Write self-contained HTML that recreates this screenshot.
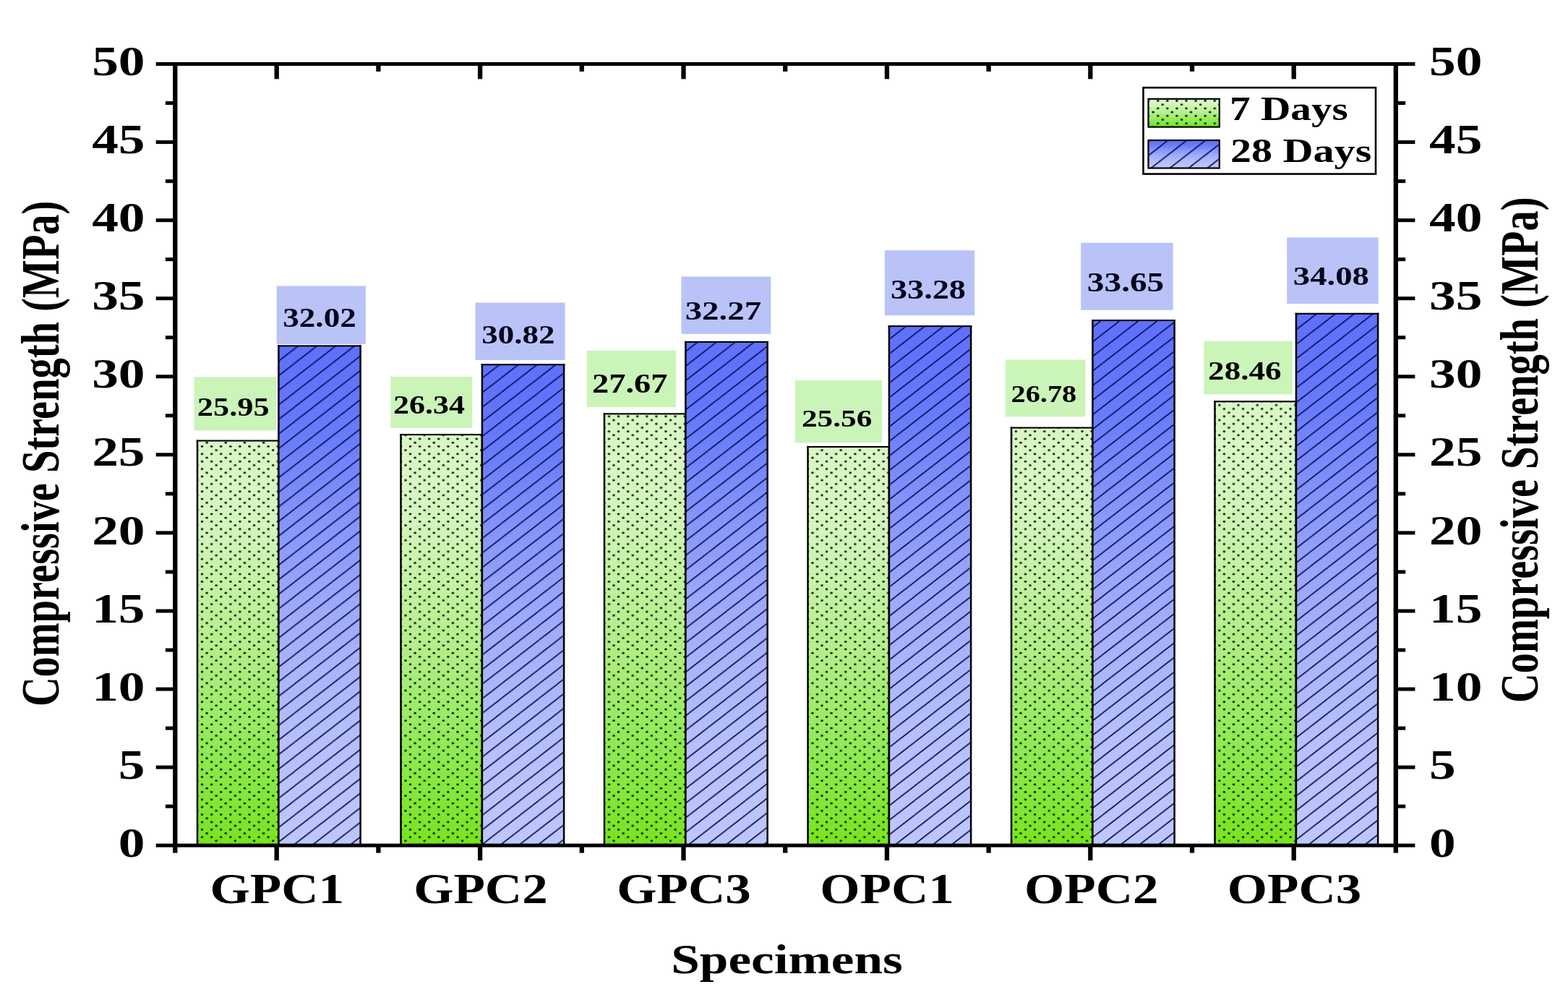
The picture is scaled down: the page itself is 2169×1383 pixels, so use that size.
<!DOCTYPE html>
<html lang="en">
<head>
<meta charset="utf-8">
<title>Compressive Strength of Specimens</title>
<style>
html,body{margin:0;padding:0;background:#fff;}
body{width:2169px;height:1383px;overflow:hidden;}
svg{display:block;}
text{font-family:"Liberation Serif", "DejaVu Serif", serif;font-weight:bold;}
</style>
</head>
<body>
<svg width="2169" height="1383" viewBox="0 0 2169 1383">
<defs>
<linearGradient id="gG" x1="0" y1="0" x2="0" y2="1"><stop offset="0.000" stop-color="#daf6c6"/><stop offset="0.120" stop-color="#d9f6c4"/><stop offset="0.210" stop-color="#d4f5bd"/><stop offset="0.350" stop-color="#c6f2a6"/><stop offset="0.500" stop-color="#b6ee8c"/><stop offset="0.630" stop-color="#a3ec70"/><stop offset="0.760" stop-color="#90ea54"/><stop offset="0.880" stop-color="#83e738"/><stop offset="0.960" stop-color="#7ce526"/><stop offset="1.000" stop-color="#78e41c"/></linearGradient>
<linearGradient id="gB" x1="0" y1="0" x2="0" y2="1"><stop offset="0.000" stop-color="#5f70fa"/><stop offset="0.100" stop-color="#6375fa"/><stop offset="0.180" stop-color="#687cfa"/><stop offset="0.330" stop-color="#8292fa"/><stop offset="0.500" stop-color="#9ba7fa"/><stop offset="0.640" stop-color="#a9b4fa"/><stop offset="0.770" stop-color="#b4befa"/><stop offset="0.900" stop-color="#bbc4fa"/><stop offset="1.000" stop-color="#bec7fa"/></linearGradient>
<pattern id="pD" patternUnits="userSpaceOnUse" width="26.182" height="20.78" patternTransform="translate(4.634,4.480)"><g fill="#0b230b"><ellipse cx="0.000" cy="0.000" rx="1.8" ry="1.4"/><ellipse cx="0.000" cy="20.780" rx="1.8" ry="1.4"/><ellipse cx="26.182" cy="0.000" rx="1.8" ry="1.4"/><ellipse cx="26.182" cy="20.780" rx="1.8" ry="1.4"/><ellipse cx="13.091" cy="0.000" rx="1.8" ry="1.4"/><ellipse cx="13.091" cy="20.780" rx="1.8" ry="1.4"/><ellipse cx="39.273" cy="0.000" rx="1.8" ry="1.4"/><ellipse cx="39.273" cy="20.780" rx="1.8" ry="1.4"/><ellipse cx="19.636" cy="5.195" rx="1.8" ry="1.4"/><ellipse cx="19.636" cy="25.975" rx="1.8" ry="1.4"/><ellipse cx="45.819" cy="5.195" rx="1.8" ry="1.4"/><ellipse cx="45.819" cy="25.975" rx="1.8" ry="1.4"/><ellipse cx="0.000" cy="10.390" rx="1.8" ry="1.4"/><ellipse cx="0.000" cy="31.170" rx="1.8" ry="1.4"/><ellipse cx="26.182" cy="10.390" rx="1.8" ry="1.4"/><ellipse cx="26.182" cy="31.170" rx="1.8" ry="1.4"/><ellipse cx="13.091" cy="10.390" rx="1.8" ry="1.4"/><ellipse cx="13.091" cy="31.170" rx="1.8" ry="1.4"/><ellipse cx="39.273" cy="10.390" rx="1.8" ry="1.4"/><ellipse cx="39.273" cy="31.170" rx="1.8" ry="1.4"/><ellipse cx="6.545" cy="15.585" rx="1.8" ry="1.4"/><ellipse cx="6.545" cy="36.365" rx="1.8" ry="1.4"/><ellipse cx="32.727" cy="15.585" rx="1.8" ry="1.4"/><ellipse cx="32.727" cy="36.365" rx="1.8" ry="1.4"/></g></pattern>
<pattern id="pH" patternUnits="userSpaceOnUse" width="25.9900" height="20.1550" patternTransform="translate(17.550,18.835)"><g stroke="#0c0c58" stroke-width="1.35" stroke-linecap="butt"><line x1="-25.99" y1="20.155" x2="25.99" y2="-20.155"/><line x1="0" y1="20.155" x2="51.98" y2="-20.155"/><line x1="-25.99" y1="40.31" x2="25.99" y2="0"/><line x1="0" y1="40.31" x2="51.98" y2="0"/></g></pattern>
<pattern id="pH2" patternUnits="userSpaceOnUse" width="25.9900" height="20.1550" patternTransform="translate(22.350,18.835)"><g stroke="#0c0c58" stroke-width="1.35" stroke-linecap="butt"><line x1="-25.99" y1="20.155" x2="25.99" y2="-20.155"/><line x1="0" y1="20.155" x2="51.98" y2="-20.155"/><line x1="-25.99" y1="40.31" x2="25.99" y2="0"/><line x1="0" y1="40.31" x2="51.98" y2="0"/></g></pattern>
</defs>
<rect x="0" y="0" width="2169" height="1383" fill="#ffffff"/>
<g id="chart">
<g id="bars">
<rect x="273.00" y="609.52" width="112.40" height="559.68" fill="url(#gG)"/>
<rect x="273.00" y="609.52" width="112.40" height="559.68" fill="url(#pD)"/>
<g fill="#000"><rect x="271.75" y="608.47" width="2.5" height="560.73"/><rect x="384.15" y="608.47" width="2.5" height="560.73"/><rect x="271.75" y="608.47" width="114.90" height="2.1"/></g>
<rect x="385.40" y="478.32" width="113.20" height="690.88" fill="url(#gB)"/>
<rect x="385.40" y="478.32" width="113.20" height="690.88" fill="url(#pH)"/>
<g fill="#000"><rect x="384.15" y="477.27" width="2.5" height="691.93"/><rect x="497.35" y="477.27" width="2.5" height="691.93"/><rect x="384.15" y="477.27" width="115.70" height="2.1"/></g>
<rect x="554.50" y="601.09" width="112.40" height="568.11" fill="url(#gG)"/>
<rect x="554.50" y="601.09" width="112.40" height="568.11" fill="url(#pD)"/>
<g fill="#000"><rect x="553.25" y="600.04" width="2.5" height="569.16"/><rect x="665.65" y="600.04" width="2.5" height="569.16"/><rect x="553.25" y="600.04" width="114.90" height="2.1"/></g>
<rect x="666.90" y="504.26" width="113.20" height="664.94" fill="url(#gB)"/>
<rect x="666.90" y="504.26" width="113.20" height="664.94" fill="url(#pH)"/>
<g fill="#000"><rect x="665.65" y="503.21" width="2.5" height="665.99"/><rect x="778.85" y="503.21" width="2.5" height="665.99"/><rect x="665.65" y="503.21" width="115.70" height="2.1"/></g>
<rect x="836.00" y="572.34" width="112.40" height="596.86" fill="url(#gG)"/>
<rect x="836.00" y="572.34" width="112.40" height="596.86" fill="url(#pD)"/>
<g fill="#000"><rect x="834.75" y="571.29" width="2.5" height="597.91"/><rect x="947.15" y="571.29" width="2.5" height="597.91"/><rect x="834.75" y="571.29" width="114.90" height="2.1"/></g>
<rect x="948.40" y="472.92" width="113.20" height="696.28" fill="url(#gB)"/>
<rect x="948.40" y="472.92" width="113.20" height="696.28" fill="url(#pH)"/>
<g fill="#000"><rect x="947.15" y="471.87" width="2.5" height="697.33"/><rect x="1060.35" y="471.87" width="2.5" height="697.33"/><rect x="947.15" y="471.87" width="115.70" height="2.1"/></g>
<rect x="1117.50" y="617.95" width="112.40" height="551.25" fill="url(#gG)"/>
<rect x="1117.50" y="617.95" width="112.40" height="551.25" fill="url(#pD)"/>
<g fill="#000"><rect x="1116.25" y="616.90" width="2.5" height="552.30"/><rect x="1228.65" y="616.90" width="2.5" height="552.30"/><rect x="1116.25" y="616.90" width="114.90" height="2.1"/></g>
<rect x="1229.90" y="451.09" width="113.20" height="718.11" fill="url(#gB)"/>
<rect x="1229.90" y="451.09" width="113.20" height="718.11" fill="url(#pH)"/>
<g fill="#000"><rect x="1228.65" y="450.04" width="2.5" height="719.16"/><rect x="1341.85" y="450.04" width="2.5" height="719.16"/><rect x="1228.65" y="450.04" width="115.70" height="2.1"/></g>
<rect x="1399.00" y="591.58" width="112.40" height="577.62" fill="url(#gG)"/>
<rect x="1399.00" y="591.58" width="112.40" height="577.62" fill="url(#pD)"/>
<g fill="#000"><rect x="1397.75" y="590.53" width="2.5" height="578.67"/><rect x="1510.15" y="590.53" width="2.5" height="578.67"/><rect x="1397.75" y="590.53" width="114.90" height="2.1"/></g>
<rect x="1511.40" y="443.09" width="113.20" height="726.11" fill="url(#gB)"/>
<rect x="1511.40" y="443.09" width="113.20" height="726.11" fill="url(#pH)"/>
<g fill="#000"><rect x="1510.15" y="442.04" width="2.5" height="727.16"/><rect x="1623.35" y="442.04" width="2.5" height="727.16"/><rect x="1510.15" y="442.04" width="115.70" height="2.1"/></g>
<rect x="1680.50" y="555.27" width="112.40" height="613.93" fill="url(#gG)"/>
<rect x="1680.50" y="555.27" width="112.40" height="613.93" fill="url(#pD)"/>
<g fill="#000"><rect x="1679.25" y="554.22" width="2.5" height="614.98"/><rect x="1791.65" y="554.22" width="2.5" height="614.98"/><rect x="1679.25" y="554.22" width="114.90" height="2.1"/></g>
<rect x="1792.90" y="433.79" width="113.20" height="735.41" fill="url(#gB)"/>
<rect x="1792.90" y="433.79" width="113.20" height="735.41" fill="url(#pH)"/>
<g fill="#000"><rect x="1791.65" y="432.74" width="2.5" height="736.46"/><rect x="1904.85" y="432.74" width="2.5" height="736.46"/><rect x="1791.65" y="432.74" width="115.70" height="2.1"/></g>
</g>
<g id="labels" font-family='"Liberation Serif", "DejaVu Serif", serif' font-weight="bold">
<rect x="268.4" y="521.4" width="113.6" height="73.8" fill="#cbf4b9"/>
<text transform="translate(272.81,574.50) scale(1.2458,1.0000)" font-size="35.62" fill="#000">25.95</text>
<rect x="382.7" y="395.5" width="123.2" height="80.4" fill="#b9c3f8"/>
<text transform="translate(391.31,452.30) scale(1.2134,1.0000)" font-size="37.14" fill="#05051a">32.02</text>
<rect x="540.3" y="520.8" width="113.0" height="71.2" fill="#cbf4b9"/>
<text transform="translate(543.93,571.60) scale(1.2650,1.0000)" font-size="34.87" fill="#000">26.34</text>
<rect x="657.6" y="418.6" width="124.0" height="79.4" fill="#b9c3f8"/>
<text transform="translate(666.21,475.30) scale(1.2423,1.0000)" font-size="36.24" fill="#05051a">30.82</text>
<rect x="811.7" y="484.7" width="123.5" height="78.4" fill="#cbf4b9"/>
<text transform="translate(819.02,542.50) scale(1.2474,1.0000)" font-size="37.28" fill="#000">27.67</text>
<rect x="942.4" y="382.5" width="123.9" height="79.3" fill="#b9c3f8"/>
<text transform="translate(947.64,441.70) scale(1.2787,1.0000)" font-size="36.68" fill="#05051a">32.27</text>
<rect x="1100.0" y="526.0" width="120.0" height="86.4" fill="#cbf4b9"/>
<text transform="translate(1108.96,589.80) scale(1.2474,1.0000)" font-size="34.72" fill="#000">25.56</text>
<rect x="1223.8" y="346.3" width="124.3" height="89.9" fill="#b9c3f8"/>
<text transform="translate(1231.97,413.20) scale(1.2449,1.0000)" font-size="37.14" fill="#05051a">33.28</text>
<rect x="1391.0" y="497.4" width="110.4" height="78.9" fill="#cbf4b9"/>
<text transform="translate(1398.48,555.60) scale(1.1984,1.0000)" font-size="33.68" fill="#000">26.78</text>
<rect x="1495.2" y="335.8" width="127.5" height="93.0" fill="#b9c3f8"/>
<text transform="translate(1503.83,403.00) scale(1.2537,1.0000)" font-size="37.74" fill="#05051a">33.65</text>
<rect x="1665.3" y="471.7" width="122.7" height="73.6" fill="#cbf4b9"/>
<text transform="translate(1671.08,524.60) scale(1.2927,1.0000)" font-size="34.89" fill="#000">28.46</text>
<rect x="1780.2" y="328.4" width="126.5" height="91.7" fill="#b9c3f8"/>
<text transform="translate(1788.75,394.20) scale(1.3411,1.0000)" font-size="34.89" fill="#05051a">34.08</text>
</g>
<g id="axes" fill="#000">
<rect x="239.15" y="86.00" width="6.3" height="1085.70"/>
<rect x="1927.65" y="86.00" width="6.3" height="1085.70"/>
<rect x="239.15" y="86.00" width="1694.80" height="5.0"/>
<rect x="239.15" y="1166.70" width="1694.80" height="5.0"/>
<rect x="215.70" y="1166.70" width="26.60" height="5.0"/>
<rect x="1930.80" y="1166.70" width="26.60" height="5.0"/>
<rect x="228.90" y="1112.66" width="13.40" height="5.0"/>
<rect x="1930.80" y="1112.66" width="13.40" height="5.0"/>
<rect x="215.70" y="1058.63" width="26.60" height="5.0"/>
<rect x="1930.80" y="1058.63" width="26.60" height="5.0"/>
<rect x="228.90" y="1004.60" width="13.40" height="5.0"/>
<rect x="1930.80" y="1004.60" width="13.40" height="5.0"/>
<rect x="215.70" y="950.56" width="26.60" height="5.0"/>
<rect x="1930.80" y="950.56" width="26.60" height="5.0"/>
<rect x="228.90" y="896.53" width="13.40" height="5.0"/>
<rect x="1930.80" y="896.53" width="13.40" height="5.0"/>
<rect x="215.70" y="842.49" width="26.60" height="5.0"/>
<rect x="1930.80" y="842.49" width="26.60" height="5.0"/>
<rect x="228.90" y="788.46" width="13.40" height="5.0"/>
<rect x="1930.80" y="788.46" width="13.40" height="5.0"/>
<rect x="215.70" y="734.42" width="26.60" height="5.0"/>
<rect x="1930.80" y="734.42" width="26.60" height="5.0"/>
<rect x="228.90" y="680.38" width="13.40" height="5.0"/>
<rect x="1930.80" y="680.38" width="13.40" height="5.0"/>
<rect x="215.70" y="626.35" width="26.60" height="5.0"/>
<rect x="1930.80" y="626.35" width="26.60" height="5.0"/>
<rect x="228.90" y="572.32" width="13.40" height="5.0"/>
<rect x="1930.80" y="572.32" width="13.40" height="5.0"/>
<rect x="215.70" y="518.28" width="26.60" height="5.0"/>
<rect x="1930.80" y="518.28" width="26.60" height="5.0"/>
<rect x="228.90" y="464.25" width="13.40" height="5.0"/>
<rect x="1930.80" y="464.25" width="13.40" height="5.0"/>
<rect x="215.70" y="410.21" width="26.60" height="5.0"/>
<rect x="1930.80" y="410.21" width="26.60" height="5.0"/>
<rect x="228.90" y="356.18" width="13.40" height="5.0"/>
<rect x="1930.80" y="356.18" width="13.40" height="5.0"/>
<rect x="215.70" y="302.14" width="26.60" height="5.0"/>
<rect x="1930.80" y="302.14" width="26.60" height="5.0"/>
<rect x="228.90" y="248.11" width="13.40" height="5.0"/>
<rect x="1930.80" y="248.11" width="13.40" height="5.0"/>
<rect x="215.70" y="194.07" width="26.60" height="5.0"/>
<rect x="1930.80" y="194.07" width="26.60" height="5.0"/>
<rect x="228.90" y="140.04" width="13.40" height="5.0"/>
<rect x="1930.80" y="140.04" width="13.40" height="5.0"/>
<rect x="215.70" y="86.00" width="26.60" height="5.0"/>
<rect x="1930.80" y="86.00" width="26.60" height="5.0"/>
<rect x="239.15" y="1169.20" width="6.3" height="10.40"/>
<rect x="379.55" y="1169.20" width="6.3" height="20.80"/>
<rect x="379.55" y="88.50" width="6.3" height="20.80"/>
<rect x="520.25" y="1169.20" width="6.3" height="10.40"/>
<rect x="520.25" y="88.50" width="6.3" height="10.40"/>
<rect x="660.95" y="1169.20" width="6.3" height="20.80"/>
<rect x="660.95" y="88.50" width="6.3" height="20.80"/>
<rect x="801.65" y="1169.20" width="6.3" height="10.40"/>
<rect x="801.65" y="88.50" width="6.3" height="10.40"/>
<rect x="942.35" y="1169.20" width="6.3" height="20.80"/>
<rect x="942.35" y="88.50" width="6.3" height="20.80"/>
<rect x="1083.05" y="1169.20" width="6.3" height="10.40"/>
<rect x="1083.05" y="88.50" width="6.3" height="10.40"/>
<rect x="1223.75" y="1169.20" width="6.3" height="20.80"/>
<rect x="1223.75" y="88.50" width="6.3" height="20.80"/>
<rect x="1364.45" y="1169.20" width="6.3" height="10.40"/>
<rect x="1364.45" y="88.50" width="6.3" height="10.40"/>
<rect x="1505.15" y="1169.20" width="6.3" height="20.80"/>
<rect x="1505.15" y="88.50" width="6.3" height="20.80"/>
<rect x="1645.85" y="1169.20" width="6.3" height="10.40"/>
<rect x="1645.85" y="88.50" width="6.3" height="10.40"/>
<rect x="1786.55" y="1169.20" width="6.3" height="20.80"/>
<rect x="1786.55" y="88.50" width="6.3" height="20.80"/>
<rect x="1927.65" y="1169.20" width="6.3" height="10.40"/>
</g>
<g id="ticklabels" font-family='"Liberation Serif", "DejaVu Serif", serif' font-weight="bold">
<text transform="translate(163.87,1184.80) scale(1.2650,1.0000)" font-size="58.00" fill="#000">0</text>
<text transform="translate(1977.00,1184.80) scale(1.265,1)" font-size="58.0">0</text>
<text transform="translate(163.87,1076.73) scale(1.2650,1.0000)" font-size="58.00" fill="#000">5</text>
<text transform="translate(1977.00,1076.73) scale(1.265,1)" font-size="58.0">5</text>
<text transform="translate(127.18,968.66) scale(1.2650,1.0000)" font-size="58.00" fill="#000">10</text>
<text transform="translate(1977.00,968.66) scale(1.265,1)" font-size="58.0">10</text>
<text transform="translate(127.18,860.59) scale(1.2650,1.0000)" font-size="58.00" fill="#000">15</text>
<text transform="translate(1977.00,860.59) scale(1.265,1)" font-size="58.0">15</text>
<text transform="translate(127.18,752.52) scale(1.2650,1.0000)" font-size="58.00" fill="#000">20</text>
<text transform="translate(1977.00,752.52) scale(1.265,1)" font-size="58.0">20</text>
<text transform="translate(127.18,644.45) scale(1.2650,1.0000)" font-size="58.00" fill="#000">25</text>
<text transform="translate(1977.00,644.45) scale(1.265,1)" font-size="58.0">25</text>
<text transform="translate(127.18,536.38) scale(1.2650,1.0000)" font-size="58.00" fill="#000">30</text>
<text transform="translate(1977.00,536.38) scale(1.265,1)" font-size="58.0">30</text>
<text transform="translate(127.18,428.31) scale(1.2650,1.0000)" font-size="58.00" fill="#000">35</text>
<text transform="translate(1977.00,428.31) scale(1.265,1)" font-size="58.0">35</text>
<text transform="translate(127.18,320.24) scale(1.2650,1.0000)" font-size="58.00" fill="#000">40</text>
<text transform="translate(1977.00,320.24) scale(1.265,1)" font-size="58.0">40</text>
<text transform="translate(127.18,212.17) scale(1.2650,1.0000)" font-size="58.00" fill="#000">45</text>
<text transform="translate(1977.00,212.17) scale(1.265,1)" font-size="58.0">45</text>
<text transform="translate(127.18,104.10) scale(1.2650,1.0000)" font-size="58.00" fill="#000">50</text>
<text transform="translate(1977.00,104.10) scale(1.265,1)" font-size="58.0">50</text>
<text transform="translate(290.51,1249.30) scale(1.2050,1.0000)" font-size="59.00" fill="#000">GPC1</text>
<text transform="translate(572.15,1249.30) scale(1.2050,1.0000)" font-size="59.00" fill="#000">GPC2</text>
<text transform="translate(853.29,1249.30) scale(1.2050,1.0000)" font-size="59.00" fill="#000">GPC3</text>
<text transform="translate(1134.31,1249.30) scale(1.2050,1.0000)" font-size="59.00" fill="#000">OPC1</text>
<text transform="translate(1416.95,1249.30) scale(1.2050,1.0000)" font-size="59.00" fill="#000">OPC2</text>
<text transform="translate(1697.69,1249.30) scale(1.2050,1.0000)" font-size="59.00" fill="#000">OPC3</text>
<text transform="translate(928.26,1345.60) scale(1.2280,1.0000)" font-size="58.00" fill="#000">Specimens</text>
<text transform="translate(81.10,977.12) rotate(-90) scale(1,1.3120)" font-size="56.40" fill="#000">Compressive Strength (MPa)</text>
<text transform="translate(2126.50,972.02) rotate(-90) scale(1,1.3120)" font-size="56.40" fill="#000">Compressive Strength (MPa)</text>
</g>
<g id="legend" font-family='"Liberation Serif", "DejaVu Serif", serif' font-weight="bold">
<rect x="1581.5" y="121.2" width="321.5" height="119.4" fill="#fff" stroke="#000" stroke-width="2.6"/>
<rect x="1588.5" y="136.8" width="98.30" height="38.80" fill="url(#gG)"/>
<rect x="1588.5" y="136.8" width="98.30" height="38.80" fill="url(#pD)" stroke="#000" stroke-width="2.2"/>
<rect x="1588.5" y="194.0" width="98.30" height="38.50" fill="url(#gB)"/>
<rect x="1588.5" y="194.0" width="98.30" height="38.50" fill="url(#pH2)" stroke="#000" stroke-width="2.2"/>
<text transform="translate(1701.11,166.40) scale(1.2300,1.0000)" font-size="46.50" fill="#000">7 Days</text>
<text transform="translate(1701.93,223.70) scale(1.2500,1.0000)" font-size="46.50" fill="#000">28 Days</text>
</g>
</g>
</svg>
</body>
</html>
